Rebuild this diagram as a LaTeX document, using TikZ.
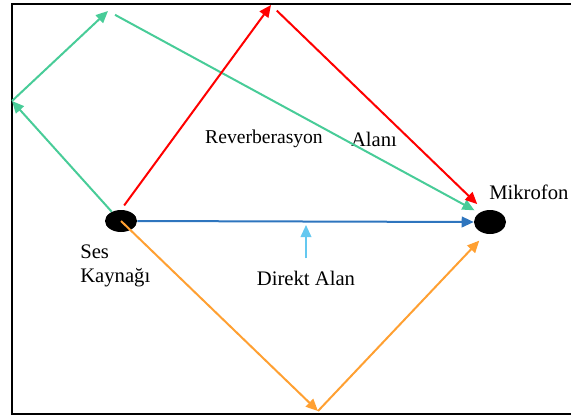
\documentclass[tikz,border=0pt]{standalone}
\usepackage{fontspec}
\setmainfont{Liberation Serif}
\usetikzlibrary{arrows.meta}
\usetikzlibrary{shapes.geometric}

\definecolor{pathGreen}{RGB}{72,204,152}
\definecolor{pathBlue}{RGB}{46,117,190}
\definecolor{pathOrange}{RGB}{255,160,50}
\definecolor{pointCyan}{RGB}{100,200,240}

\begin{document}
\begin{tikzpicture}
[x=0.75pt,y=-0.75pt,%
  rayDecorate/.style={line width=1.5pt,-{Triangle[length=9pt,width=8pt]}},%
  bodyDecorate/.style={shape=ellipse,fill=black,inner sep=0pt},%
  textDecorate/.style={inner sep=0pt,font=\fontsize{15.5}{17.5}\selectfont}]
\useasboundingbox (0,0) rectangle (571,419);
%% room walls
\draw[line width=2.2pt] (575,4) -- (12,4) -- (12,414) -- (575,414);
%% source and microphone
\node[bodyDecorate,minimum width=24pt,minimum height=16.5pt] (src) at (121,221) {};
\node[bodyDecorate,minimum width=24pt,minimum height=18pt] (mic) at (490,222) {};
%% reflection points
\coordinate (gLeft) at (12,101);
\coordinate (gTop) at (108,11);
\coordinate (rTop) at (271,5);
\coordinate (oBottom) at (318,411);
\coordinate (blueHit) at (306,225);
%% labels
\node[textDecorate,anchor=west,align=left] (srcLabel) at (80,266) {Ses\\Kaynağı};
\node[textDecorate,anchor=west] (micLabel) at (489,192) {Mikrofon};
\node[textDecorate,font=\fontsize{14.7}{17}\selectfont] (reverb) at (264,139) {Reverberasyon};
\node[textDecorate] (alan) at (374,139) {Alanı};
\node[textDecorate] (direkt) at (306,278) {Direkt Alan};
%% reflected rays
\draw[rayDecorate,pathGreen] (src.135) -- (gLeft);
\draw[rayDecorate,pathGreen] (gLeft) -- (gTop);
\draw[rayDecorate,pathGreen,shorten <=6pt,shorten >=4pt] (gTop) -- (mic.140);
\draw[rayDecorate,red,shorten <=4pt] (src.90) -- (rTop);
\draw[rayDecorate,red,shorten <=6pt,shorten >=7pt] (rTop) -- (mic.118);
\draw[rayDecorate,pathOrange] (src.center) -- (oBottom);
\draw[rayDecorate,pathOrange,shorten >=7pt] (oBottom) -- (mic.250);
%% direct ray
\draw[rayDecorate,pathBlue] (src.east) -- (mic.west);
\draw[rayDecorate,pointCyan,line width=1.2pt,shorten <=9pt] (direkt.north) -- (blueHit);
\end{tikzpicture}
\end{document}
